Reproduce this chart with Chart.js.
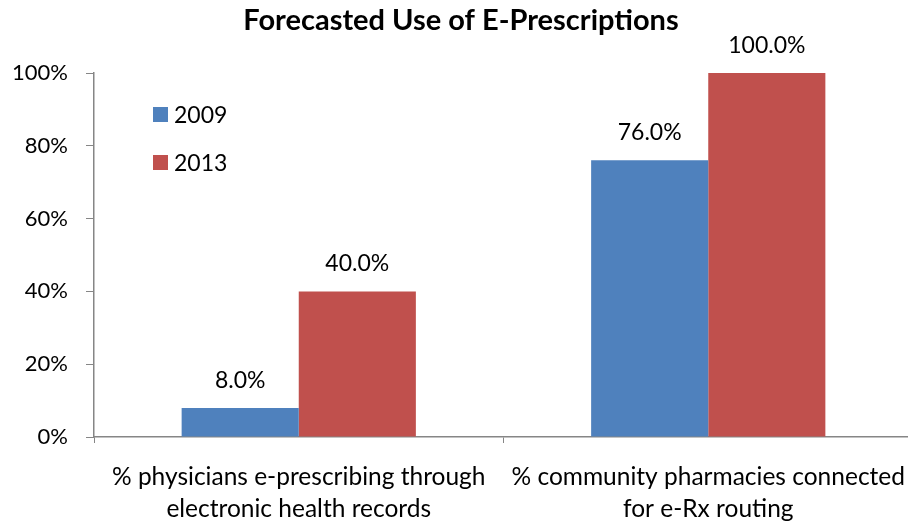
<!DOCTYPE html>
<html>
<head>
<meta charset="utf-8">
<script src="https://cdn.jsdelivr.net/npm/chart.js@4"></script>
<style>
html,body{margin:0;padding:0;background:#fff;overflow:hidden;}
#wrap{width:908px;height:525px;position:relative;overflow:hidden;}
</style>
</head>
<body>
<div id="wrap"><canvas id="c" width="913" height="525"></canvas></div>
<script>
const titleText = "Forecasted Use of E-Prescriptions";
const categories = [
  ["% physicians e-prescribing through", "electronic health records"],
  ["% community pharmacies connected", "for e-Rx routing"]
];
const seriesNames = ["2009", "2013"];
const values2009 = [0.08, 0.76];
const values2013 = [0.40, 1.00];
const yTicks = [0, 0.2, 0.4, 0.6, 0.8, 1.0];

const FONT = "Lato";
const colors = ["#4F81BD", "#C0504D"];

const overlayPlugin = {
  id: "overlay",
  afterDatasetsDraw(chart) {
    const ctx = chart.ctx;
    ctx.save();
    // data labels
    ctx.font = "23px " + FONT;
    ctx.fillStyle = "#000";
    ctx.textAlign = "center";
    ctx.textBaseline = "alphabetic";
    chart.data.datasets.forEach((ds, i) => {
      const meta = chart.getDatasetMeta(i);
      meta.data.forEach((bar, j) => {
        const v = ds.data[j];
        ctx.fillText((v * 100).toFixed(1) + "%", bar.x, bar.y - 20);
      });
    });
    // legend inside plot
    const lx = 153, ly = [115, 163];
    chart.data.datasets.forEach((ds, i) => {
      ctx.fillStyle = ds.backgroundColor;
      ctx.fillRect(lx, ly[i] - 8, 15, 15);
      ctx.fillStyle = "#000";
      ctx.textAlign = "left";
      ctx.textBaseline = "middle";
      ctx.font = "23px " + FONT;
      ctx.fillText(ds.label, lx + 21, ly[i] + 1);
    });
    // title
    ctx.font = "bold 29px " + FONT;
    ctx.textAlign = "center";
    ctx.textBaseline = "middle";
    ctx.fillStyle = "#000";
    ctx.fillText(titleText, 461, 21);
    ctx.restore();
  }
};

new Chart(document.getElementById("c"), {
  type: "bar",
  data: {
    labels: categories,
    datasets: [
      { label: seriesNames[0], data: values2009, backgroundColor: colors[0] },
      { label: seriesNames[1], data: values2013, backgroundColor: colors[1] }
    ]
  },
  options: {
    responsive: false,
    animation: false,
    devicePixelRatio: 1,
    layout: { padding: { top: 73, right: 0, bottom: 0, left: 0 } },
    plugins: { legend: { display: false }, title: { display: false }, tooltip: { enabled: false } },
    datasets: { bar: { barPercentage: 1.0, categoryPercentage: 0.572 } },
    scales: {
      x: {
        afterFit(scale) { scale.height = 88; scale.paddingLeft = 0; scale.paddingRight = 0; },
        grid: { display: true, offset: true, drawOnChartArea: false, tickLength: 6,
          color: c => (c.tick ? "#868686" : "rgba(0,0,0,0)"), lineWidth: 1 },
        border: { display: true, color: "#868686", width: 1.5 },
        ticks: { color: "#000", font: { family: FONT, size: 24.5, lineHeight: 1.3 }, padding: 18, maxRotation: 0, autoSkip: false }
      },
      y: {
        min: 0, max: 1,
        afterFit(scale) { scale.width = 94; scale.paddingTop = 0; scale.paddingBottom = 0; },
        afterBuildTicks(scale) { scale.ticks = yTicks.map(v => ({ value: v })); },
        grid: { display: true, drawOnChartArea: false, tickLength: 8, color: "#868686" },
        border: { display: true, color: "#868686", width: 1.5 },
        ticks: { color: "#000", font: { family: FONT, size: 22 }, padding: 18,
          callback: v => Math.round(v * 100) + "%" }
      }
    }
  },
  plugins: [overlayPlugin]
});
</script>
</body>
</html>
